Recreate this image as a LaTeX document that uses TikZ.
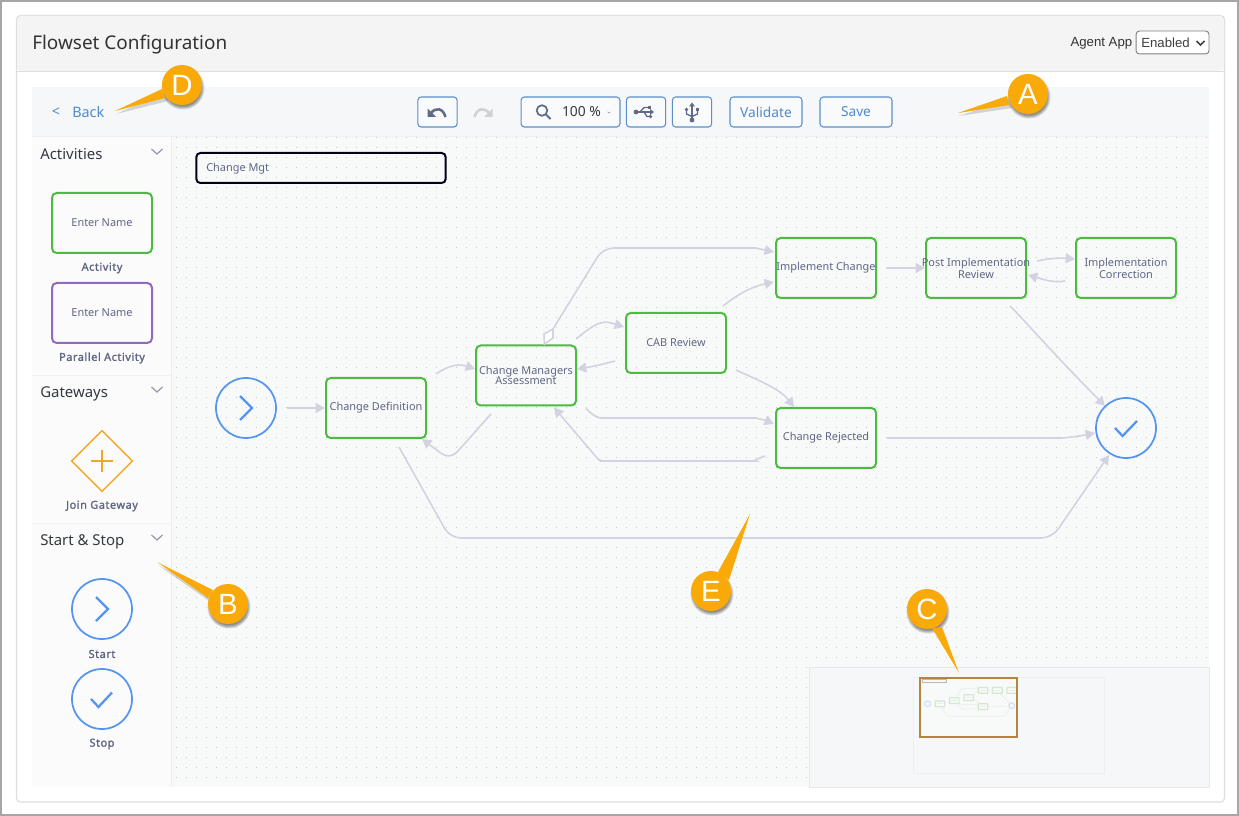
\documentclass[tikz,border=0pt]{standalone}
\usepackage{fontspec}
\setmainfont{Liberation Sans}
\newfontfamily\uifont{Noto Sans}
\newfontfamily\uibold[FakeBold=1.6,LetterSpace=5]{Noto Sans}
\usetikzlibrary{arrows.meta,shapes.geometric}
\definecolor{cgreen}{HTML}{4CBB3F}
\definecolor{cpurple}{HTML}{9368C0}
\definecolor{corange}{HTML}{F5A623}
\definecolor{cblue}{HTML}{5594F0}
\definecolor{ctext}{HTML}{5F6684}
\definecolor{cconn}{HTML}{D1D3E0}
\definecolor{ccall}{HTML}{F9A908}
\definecolor{clink}{HTML}{4F8AC9}
\definecolor{cbtn}{HTML}{5B8FC9}
\definecolor{cicon}{HTML}{626A87}
\definecolor{chead}{HTML}{343A40}
\definecolor{toolbg}{HTML}{F5F7F9}
\definecolor{cbg}{HTML}{F8FAFA}
\definecolor{cmap}{HTML}{F6F7F9}
\definecolor{cmapb}{HTML}{E6E8EC}
\definecolor{cbrown}{HTML}{B5853F}
\definecolor{cminig}{HTML}{D2E9D0}
\definecolor{cminib}{HTML}{CFE0F8}
\tikzset{
  x=0.75pt,y=-0.75pt,
  activity/.style={draw=cgreen,line width=1.5pt,rounded corners=3.5pt,minimum width=75pt,minimum height=45pt,inner sep=0pt,font=\uifont\fontsize{8.2}{7.9}\selectfont,text=ctext,align=center},
  roundnode/.style={draw=cblue,line width=1.3pt,circle,minimum size=45pt,inner sep=0pt},
  conn/.style={draw=cconn,line width=1.2pt,-{Triangle[length=7pt,width=7.5pt]},rounded corners=8pt},
  plaintext/.style={inner sep=0pt,font=\uifont\fontsize{8.2}{10}\selectfont,text=ctext},
  caplab/.style={inner sep=0pt,font=\uibold\fontsize{8.2}{10}\selectfont,text=ctext},
  headlab/.style={inner sep=0pt,anchor=west,font=\uifont\fontsize{11.2}{12}\selectfont,text=chead},
  btn/.style={draw=cbtn,line width=.8pt,rounded corners=2.5pt,fill=white!40!toolbg,inner sep=0pt,font=\uifont\fontsize{10.3}{12}\selectfont,text=clink},
  callnode/.style={circle,fill=ccall,minimum size=30pt,inner sep=0pt,text=white,font=\fontsize{22}{24}\selectfont},
  callfill/.style={fill=ccall,draw=none},
  iconline/.style={draw=cicon,line width=1.3pt},
  chev/.style={draw=cicon!70,line width=.9pt},
  glyph/.style={draw=cblue,line width=1.7pt},
  mini/.style={draw=#1,line width=.9pt,rounded corners=.3pt},
}
\newcommand{\callshadow}[2]{%
  \foreach \rr in {21.5,20.5,19.5,18.5}{\fill[black,opacity=.13] (#1+1,#2+3) circle[radius=\rr];}}
\begin{document}
\begin{tikzpicture}
\useasboundingbox (0,0) rectangle (1239,816);
% page
\fill[white] (0,0) rectangle (1239,816);
\draw[draw=black!35,line width=1.5pt] (1,1) rectangle (1238,815);
% card
\draw[draw=black!13,line width=.9pt,rounded corners=3pt,fill=white] (16.5,15.5) rectangle (1224.5,802);
\fill[black!4.5,rounded corners=3pt] (17,16) -- (1224,16) -- (1224,71) -- (17,71) -- cycle;
\draw[black!13,line width=.9pt] (17,71.5) -- (1224,71.5);
\node[inner sep=0pt,anchor=west,text=black!80,font=\uifont\fontsize{14.2}{18}\selectfont] (title) at (32,45) {Flowset Configuration};
\node[inner sep=0pt,anchor=east,text=black!80,font=\fontsize{9.9}{12}\selectfont] (agent) at (1132.5,43.5) {Agent App};
\node[draw=black!50,line width=.7pt,rounded corners=2.5pt,fill=white,minimum width=54.7pt,minimum height=17.2pt,inner sep=0pt] (sel) at (1172.5,42.5) {};
\node[inner sep=0pt,anchor=west,text=black!75,font=\fontsize{9.9}{12}\selectfont] (seltxt) at (1141,43) {Enabled};
\draw[black!75,line width=1.1pt] (1196.5,41) -- (1200.5,45) -- (1204.5,41);
% toolbar, sidebar, canvas
\fill[toolbg] (32,87) rectangle (1209,136);
\fill[black!1.5] (32,136) rectangle (171,787);
\fill[cbg] (172,137) rectangle (1209,787);
\draw[black!6,line width=.8pt] (32,136.5) -- (1209,136.5);
\draw[black!7,line width=.8pt] (171.5,136) -- (171.5,787);
\draw[black!5,line width=.8pt] (32,375.5) -- (171,375.5);
\draw[black!5,line width=.8pt] (32,523.5) -- (171,523.5);
% dots
\foreach \yy in {137.5,147.5,...,787}{
  \draw[draw=black!22,line width=.75pt,dash pattern=on .75pt off 6.75pt] (176.1,\yy) -- (1209,\yy);
}
% toolbar controls
\node[inner sep=0pt,text=clink,font=\uifont\fontsize{10.8}{12}\selectfont] (backlt) at (56,112.5) {<};
\node[inner sep=0pt,anchor=west,text=clink,font=\uifont\fontsize{10.8}{12}\selectfont] (back) at (72,112.5) {Back};
\node[btn,minimum width=29.5pt,minimum height=22.5pt] (undo) at (437.5,112) {};
\fill[cicon] (427.5,108.5) -- (427.5,117) -- (436,117) -- cycle;
\draw[iconline,line width=1.9pt] (431,113) .. controls (436,107) and (443,108) .. (445.5,117);
\fill[black!18] (492.5,108.5) -- (492.5,117) -- (484,117) -- cycle;
\draw[black!18,line width=1.9pt] (489,113) .. controls (484,107) and (477,108) .. (474.5,117);
\node[btn,minimum width=74.2pt,minimum height=22.5pt] (zoomb) at (570.5,112) {};
\draw[iconline] (542,110.5) circle[radius=5.3];
\draw[iconline,line width=1.4pt] (546,114.5) -- (550.5,119);
\node[inner sep=0pt,text=chead,font=\uifont\fontsize{10.4}{12}\selectfont] (pct) at (581.5,112) {100 \%};
\draw[cicon!70,line width=.4pt] (607.5,111.8) -- (609,113.2) -- (610.5,111.8);
\node[btn,minimum width=29.5pt,minimum height=22.5pt] (usbh) at (646,112) {};
\node[btn,minimum width=29.5pt,minimum height=22.5pt] (usbv) at (692,112) {};
% horizontal usb icon
\draw[iconline,line width=1pt] (636,112) -- (651,112);
\draw[iconline,line width=1pt] (640,112) -- (644,107.5) -- (648,107.5);
\draw[iconline,line width=1pt] (644,112) -- (647,116.5) -- (650,116.5);
\fill[cicon] (636,112) circle[radius=2.4];
\fill[cicon] (654,112) -- (650,109) -- (650,115) -- cycle;
\fill[cicon] (647.5,105.7) rectangle (651,109.2);
\fill[cicon] (650.5,116.5) circle[radius=1.9];
% vertical usb icon
\draw[iconline,line width=1pt] (692,105) -- (692,120);
\draw[iconline,line width=1pt] (692,116.5) -- (686.5,114) -- (686.5,110);
\draw[iconline,line width=1pt] (692,116.5) -- (697.5,114) -- (697.5,110);
\fill[cicon] (692,102.5) -- (689,106.5) -- (695,106.5) -- cycle;
\fill[cicon] (692,120) circle[radius=2.4];
\fill[cicon] (686.5,109.5) circle[radius=1.9];
\fill[cicon] (695.8,107.8) rectangle (699.2,111.2);
\node[btn,minimum width=54pt,minimum height=22.5pt] (validate) at (766,112) {Validate};
\node[btn,minimum width=54pt,minimum height=22.5pt] (save) at (856,112) {Save};
% sidebar
\node[headlab] (hact) at (40,154.5) {Activities};
\node[headlab] (hgat) at (40,393.5) {Gateways};
\node[headlab] (hss) at (40,541.5) {Start \& Stop};
\foreach \yy in {149,387,535}{\draw[chev] (151.5,\yy) -- (157,\yy+5) -- (162.5,\yy);}
\node[activity] (pa) at (102,223) {Enter Name};
\node[caplab] (pal) at (102,268) {Activity};
\node[activity,draw=cpurple] (pp) at (102,313) {Enter Name};
\node[caplab] (ppl) at (102,358) {Parallel Activity};
\node[diamond,draw=corange,line width=1.1pt,minimum width=46pt,minimum height=46pt,inner sep=0pt] (pg) at (102,461) {};
\draw[corange,line width=1.1pt] (91,461) -- (113,461) (102,450) -- (102,472);
\node[caplab] (pgl) at (102,506) {Join Gateway};
\node[roundnode] (ps) at (102,609) {};
\draw[glyph] (96,597) -- (108,609) -- (96,621);
\node[caplab] (psl) at (102,654) {Start};
\node[roundnode] (pt) at (102,699) {};
\draw[glyph] (91,699) -- (98.5,707) -- (112,692.5);
\node[caplab] (ptl) at (102,744) {Stop};
% title box
\node[draw=black!90!blue,line width=1.5pt,rounded corners=3pt,minimum width=187pt,minimum height=22.5pt,inner sep=0pt] (mgt) at (321,168) {};
\node[plaintext,anchor=west] (mgtt) at (206,168.5) {Change Mgt};
% flow nodes
\node[roundnode] (start) at (246,408) {};
\draw[glyph] (240,396) -- (252,408) -- (240,420);
\node[activity] (cd) at (376,408) {Change Definition};
\node[activity] (cma) at (526,375.5) {Change Managers\\Assessment};
\node[activity] (cab) at (676,343) {CAB Review};
\node[activity] (impl) at (826,268) {Implement Change};
\node[activity] (pir) at (976,268) {\makebox[0pt]{Post Implementation}\\Review};
\node[activity] (ic) at (1126,268) {Implementation\\Correction};
\node[activity] (rej) at (826,438) {Change Rejected};
\node[roundnode] (stop) at (1126,428) {};
\draw[glyph] (1115,428) -- (1122.5,436) -- (1137,421);
% connectors
\draw[conn] ([shift={(41,0)}]start.center) -- (cd.west);
\draw[conn] ([shift={(60,-34)}]cd.center) .. controls (451,364) and (460,364) .. ([shift={(-51,-6.5)}]cma.center);
\draw[conn] ([shift={(-35,38.5)}]cma.center) -- (450,460) -- ([shift={(46,31)}]cd.center);
\draw[conn] ([shift={(50,-36.5)}]cma.center) .. controls (600,319) and (605,321) .. ([shift={(-52,-16)}]cab.center);
\draw[conn] ([shift={(-61,18)}]cab.center) .. controls (600,365) and (590,367) .. ([shift={(51,-6.5)}]cma.center);
\coordinate (dia) at (553,329);
\draw[draw=cconn,line width=1.2pt,fill=white] (544.5,344) -- (544,334) -- (dia) -- (553,338) -- cycle;
\draw[conn] (dia) -- (603,248) -- (745,248) .. controls (755,248) and (765,250) .. ([shift={(-52,-16)}]impl.center);
\draw[conn] ([shift={(47,-37)}]cab.center) .. controls (737,295) and (750,287) .. ([shift={(-52,14)}]impl.center);
\draw[conn] ([shift={(60,27)}]cab.center) .. controls (760,381) and (780,389) .. ([shift={(-32,-31)}]rej.center);
\draw[conn] ([shift={(60,33)}]cma.center) .. controls (592,415) and (598,418) .. (612,418) -- (745,418) .. controls (755,418) and (765,420) .. ([shift={(-52,-14)}]rej.center);
\draw[conn] ([shift={(-61,18)}]rej.center) .. controls (758,459) and (752,461) .. (745,461) -- (612,461) .. controls (603,461) and (598,459) .. (592,452) -- ([shift={(28,32)}]cma.center);
\draw[conn] ([shift={(60,0)}]impl.center) -- ([shift={(-51,0)}]pir.center);
\draw[conn] ([shift={(61,-7)}]pir.center) .. controls (1050,258) and (1062,258) .. ([shift={(-51,-9)}]ic.center);
\draw[conn] ([shift={(-61,13)}]ic.center) .. controls (1052,283) and (1042,279) .. ([shift={(52,7)}]pir.center);
\draw[conn] ([shift={(34,38)}]pir.center) .. controls (1030,326) and (1045,345) .. ([shift={(-21,-22)}]stop.center);
\draw[conn] ([shift={(61,0)}]rej.center) -- (1050,438) .. controls (1065,438) and (1080,436) .. ([shift={(-31,5)}]stop.center);
\draw[conn] ([shift={(23,39)}]cd.center) -- (450,538) -- (1052,538) -- ([shift={(-17,27)}]stop.center);
% minimap
\draw[draw=cmapb,line width=.7pt,fill=cmap] (809,667) rectangle (1209,787);
\draw[draw=cmapb!70,line width=.7pt,fill=cmap] (913,677.5) rectangle (1104.5,773);
\fill[cbg] (920,677) rectangle (1017,737);
\begin{scope}
\clip (920,677) rectangle (1017,737);
\begin{scope}[shift={(920.5,677.9)},scale=.0956,shift={(-172,-137)}]
\draw[draw=black!6,line width=.8pt,rounded corners=1pt] (597,255) -- (607,248) -- (775,248) (553,329) -- (607,248) (586,409) -- (600,418) -- (775,418) (554,407) -- (597,458) -- (607,461) -- (765,461)
  (725,306) -- (775,282) (736,370) -- (794,407) (886,268) -- (925,268) (1010,306) -- (1106,405) (887,438) -- (1095,432) (399,447) -- (450,538) -- (1052,538) -- (1109,456);
\draw[draw=black!28,line width=.9pt] (196,153) rectangle (446,183);
\foreach \cx/\cy in {376/408,526/375.5,676/343,826/268,976/268,1126/268,826/438}{
  \fill[black!8] (\cx-30,\cy-4) rectangle (\cx+30,\cy+3);
  \draw[mini=cminig] (\cx-50,\cy-30) rectangle (\cx+50,\cy+30);
}
\draw[draw=cminib,line width=.9pt] (246,408) circle[radius=30] (1126,428) circle[radius=30];
\end{scope}
\end{scope}
\draw[draw=cbrown,line width=1.5pt] (920,677.5) rectangle (1017,737);
% callouts
\callshadow{1028}{94}
\callshadow{228}{604}
\callshadow{927}{609}
\callshadow{182}{85}
\callshadow{711}{591}
\coordinate (tipa) at (958,113);
\coordinate (tipb) at (157,562);
\coordinate (tipc) at (959,673);
\coordinate (tipd) at (115,111);
\coordinate (tipe) at (750,514);
\fill[black,opacity=.15] (1009,99) -- ([shift={(1,3)}]tipa) -- (1012,108) -- cycle;
\fill[black,opacity=.15] (213,593) -- ([shift={(1,3)}]tipb) -- (209,601) -- cycle;
\fill[black,opacity=.15] (165,92) -- ([shift={(1,3)}]tipd) -- (168,101) -- cycle;
\node[callnode] (ca) at (1028,94) {A};
\node[callnode] (cb) at (228,604) {B};
\node[callnode] (cc) at (927,609) {C};
\node[callnode] (cdd) at (182,85) {D};
\node[callnode] (ce) at (711,591) {E};
\fill[callfill] ([shift={(-21,2)}]ca.center) -- (tipa) -- ([shift={(-19,11)}]ca.center) -- cycle;
\fill[callfill] ([shift={(-15,-14)}]cb.center) -- (tipb) -- ([shift={(-20,-6)}]cb.center) -- cycle;
\fill[callfill] ([shift={(5,19)}]cc.center) -- (tipc) -- ([shift={(15,18)}]cc.center) -- cycle;
\fill[callfill] ([shift={(-20,4)}]cdd.center) -- (tipd) -- ([shift={(-17,13)}]cdd.center) -- cycle;
\fill[callfill] ([shift={(7,-19)}]ce.center) -- (tipe) -- ([shift={(18,-11)}]ce.center) -- cycle;
\end{tikzpicture}
\end{document}
